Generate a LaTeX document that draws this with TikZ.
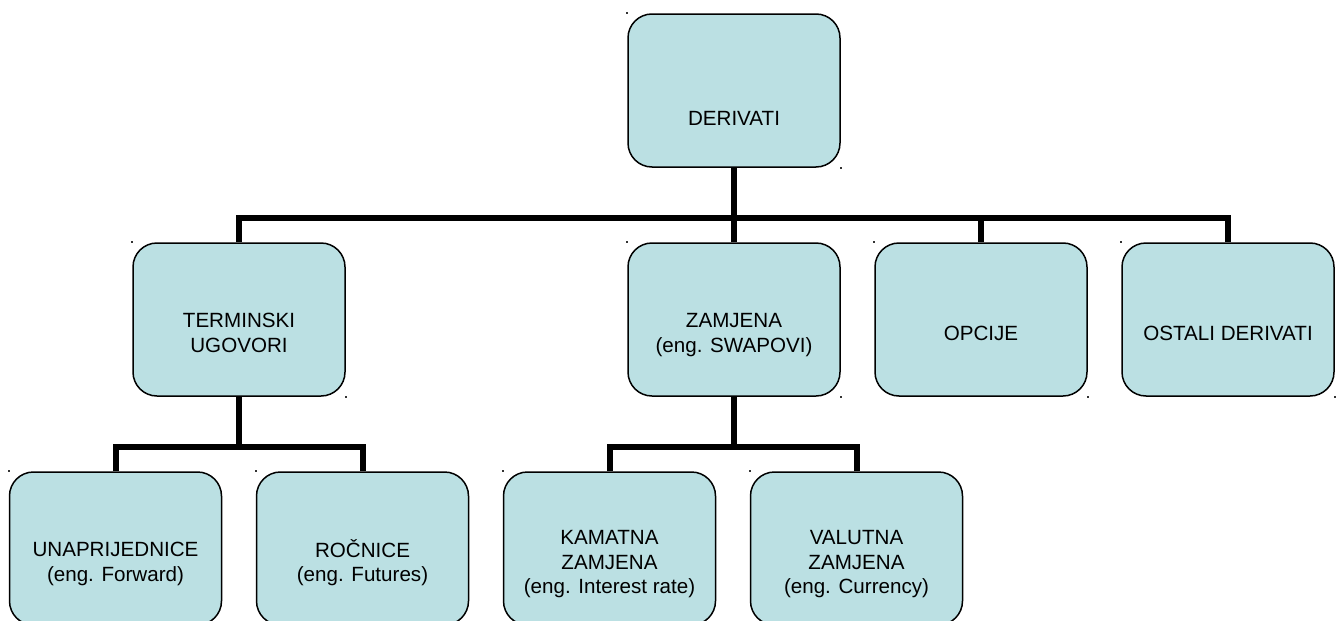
\documentclass[tikz,border=0pt]{standalone}
\usepackage{fontspec}
\setmainfont{Liberation Sans}
\usepackage{xcolor}
\usepackage{tikz}
\usetikzlibrary{positioning}

\definecolor{boxfill}{HTML}{BBE0E3}
% text block of a box, set a bit below the middle
\newcommand{\boxlabel}[2][10.4pt]{\raisebox{-#1}[0pt][0pt]{\begin{tabular}{@{}c@{}}#2\end{tabular}}}

\tikzset{
  box/.style={draw=black, line width=0.75pt, fill=boxfill, rounded corners=12pt,
    minimum width=106pt, minimum height=76.5pt, inner sep=0pt,
    font=\fontsize{10.3}{12.25}\selectfont},
  conn/.style={line width=3pt, black},
  handle/.style={fill=black!80}
}

\begin{document}
\begin{tikzpicture}[x=0.5pt, y=-0.5pt, node distance=37.25pt and 16.75pt]
          \useasboundingbox (0,0) rectangle (1344,621);
          % top level
          \node[box] (der) at (734,90.5) {\boxlabel[17.4pt]{DERIVATI}};
          % second level
          \node[box] (term) at (239,319.5) {\boxlabel{TERMINSKI\\UGOVORI}};
          \node[box, below=of der] (zam) {\boxlabel{ZAMJENA\\(eng. SWAPOVI)}};
          \node[box, right=of zam] (opc) {\boxlabel{OPCIJE}};
          \node[box, right=of opc] (ost) {\boxlabel{OSTALI DERIVATI}};
          % third level
          \node[box] (unap) at (115.5,548.5) {\boxlabel{UNAPRIJEDNICE\\(eng. Forward)}};
          \node[box, right=of unap] (roc) {\boxlabel{ROČNICE\\(eng. Futures)}};
          \node[box, right=of roc] (kam) {\boxlabel{KAMATNA\\ZAMJENA\\(eng. Interest rate)}};
          \node[box, right=of kam] (val) {\boxlabel{VALUTNA\\ZAMJENA\\(eng. Currency)}};

          \coordinate (bus1) at (734,218);
          \coordinate (bus2) at (239,447);
          \coordinate (bus3) at (734,447);

          \draw[conn] (der) -- (bus1);
          \draw[conn] (term.north) |- (bus1);
          \draw[conn] (zam) -- (bus1);
          \draw[conn] (opc.north) |- (bus1);
          \draw[conn] (ost.north) |- (bus1);

          \draw[conn] (term) -- (bus2);
          \draw[conn] (unap.north) |- (bus2);
          \draw[conn] (roc.north) |- (bus2);

          \draw[conn] (zam) -- (bus3);
          \draw[conn] (kam.north) |- (bus3);
          \draw[conn] (val.north) |- (bus3);

          % selection marks at the corners
          \foreach \b in {der,term,zam,opc,ost,unap,roc,kam,val} {
            \fill[handle] (\b.north west) ++(-1,-1) rectangle ++(2,2);
            \fill[handle] (\b.south east) ++(-1,-1) rectangle ++(2,2);
          }
        \end{tikzpicture}
\end{document}
